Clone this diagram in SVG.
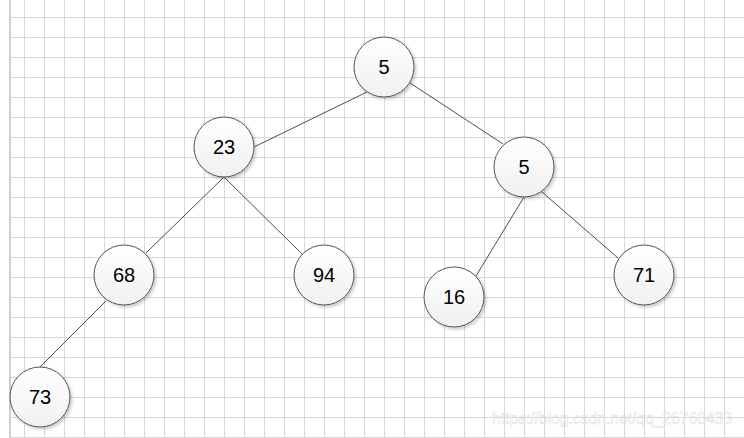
<svg xmlns="http://www.w3.org/2000/svg" width="744" height="438" viewBox="0 0 744 438">
<style>
.grid{stroke:#d8d8d8;stroke-width:1;fill:none}
.edge{stroke:#4d4d4d;stroke-width:1;fill:none}
.node circle{fill:url(#g);stroke:#555;stroke-width:1;filter:url(#sh)}
.node text{font-family:"Liberation Sans",Arial,sans-serif;font-size:20px;fill:#000;text-anchor:middle;dominant-baseline:central}
</style>
<defs>
<linearGradient id="g" x1="0" y1="0" x2="0" y2="1">
<stop offset="0" stop-color="#ffffff"/>
<stop offset="1" stop-color="#f0f0f0"/>
</linearGradient>
<filter id="sh" x="-20%" y="-20%" width="150%" height="150%">
<feDropShadow dx="2" dy="2" stdDeviation="1.5" flood-color="#000" flood-opacity="0.2"/>
</filter>
</defs>
<rect width="744" height="438" fill="#fff"/>
<g id="grid">
<path class="grid" d="M24.5 0V438M44.5 0V438M64.5 0V438M84.5 0V438M104.5 0V438M124.5 0V438M144.5 0V438M164.5 0V438M184.5 0V438M204.5 0V438M224.5 0V438M244.5 0V438M264.5 0V438M284.5 0V438M304.5 0V438M324.5 0V438M344.5 0V438M364.5 0V438M384.5 0V438M404.5 0V438M424.5 0V438M444.5 0V438M464.5 0V438M484.5 0V438M504.5 0V438M524.5 0V438M544.5 0V438M564.5 0V438M584.5 0V438M604.5 0V438M624.5 0V438M644.5 0V438M664.5 0V438M684.5 0V438M704.5 0V438M724.5 0V438"/>
<path class="grid" d="M10 17.5H744M10 37.5H744M10 57.5H744M10 77.5H744M10 97.5H744M10 117.5H744M10 137.5H744M10 157.5H744M10 177.5H744M10 197.5H744M10 217.5H744M10 237.5H744M10 257.5H744M10 277.5H744M10 297.5H744M10 317.5H744M10 337.5H744M10 357.5H744M10 377.5H744M10 397.5H744M10 417.5H744M10 437.5H744"/>
<rect x="9" y="0" width="2" height="438" fill="#cfcfcf"/>
</g>
<g id="connectors">
<line class="edge" x1="367" y1="92" x2="254" y2="147"/>
<line class="edge" x1="410" y1="83" x2="503" y2="144"/>
<line class="edge" x1="224" y1="177" x2="146" y2="253"/>
<line class="edge" x1="224" y1="177" x2="303" y2="255"/>
<line class="edge" x1="106" y1="301" x2="40" y2="367"/>
<line class="edge" x1="524" y1="197" x2="476" y2="276"/>
<line class="edge" x1="542" y1="192" x2="618" y2="258"/>
</g>
<g id="n1" class="node"><circle cx="384" cy="67" r="30"/><text x="384" y="67">5</text></g>
<g id="n2" class="node"><circle cx="224" cy="147" r="30"/><text x="224" y="147">23</text></g>
<g id="n3" class="node"><circle cx="524" cy="167" r="30"/><text x="524" y="167">5</text></g>
<g id="n4" class="node"><circle cx="124" cy="275" r="30"/><text x="124" y="275">68</text></g>
<g id="n5" class="node"><circle cx="324" cy="275" r="30"/><text x="324" y="275">94</text></g>
<g id="n6" class="node"><circle cx="454" cy="297" r="30"/><text x="454" y="297">16</text></g>
<g id="n7" class="node"><circle cx="644" cy="275" r="30"/><text x="644" y="275">71</text></g>
<g id="n8" class="node"><circle cx="40" cy="397" r="30"/><text x="40" y="397">73</text></g>
<text x="492" y="424" textLength="240" lengthAdjust="spacingAndGlyphs" font-family="'Liberation Sans',Arial,sans-serif" font-size="17" fill="#ffffff" fill-opacity="0.6" stroke="#d0d0d0" stroke-width="0.6" stroke-opacity="0.7">https://blog.csdn.net/qq_26760433</text>
</svg>
